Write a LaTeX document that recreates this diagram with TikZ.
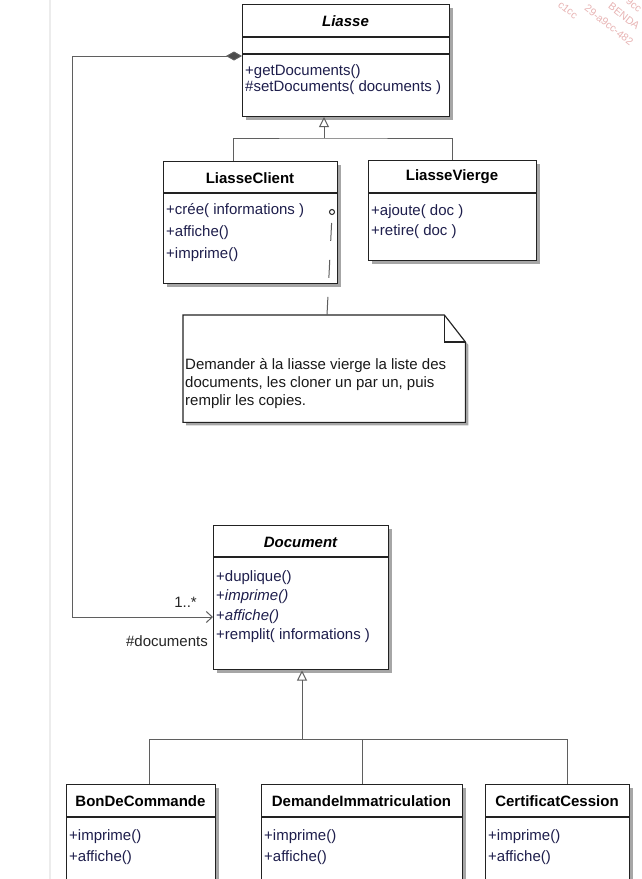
\documentclass[tikz,border=0pt]{standalone}
\usepackage{fontspec}
\setmainfont{Liberation Sans}
\usetikzlibrary{arrows.meta,shadows}

\definecolor{opnavy}{HTML}{1E1E4C}
\definecolor{boxline}{HTML}{222222}
\definecolor{linegray}{HTML}{5F5F5F}
\definecolor{shadowgray}{HTML}{A6A6A6}
\definecolor{edgegray}{HTML}{ECECEC}
\definecolor{wmred}{HTML}{E8B4B4}

\newcommand\umlfont{\fontsize{15}{18}\selectfont}

\begin{document}
\begin{tikzpicture}[x=1pt,y=-1pt,
  classbox/.style={draw=boxline, line width=1.3pt, fill=white, rectangle,
    inner sep=0pt, anchor=north west,
    drop shadow={shadow xshift=3pt, shadow yshift=-3pt, fill=shadowgray, opacity=1}},
  sepline/.style={draw=boxline, line width=1.3pt},
  classname/.style={font=\umlfont\bfseries, text=black, inner sep=0pt, anchor=center},
  abstractname/.style={font=\umlfont\bfseries\itshape, text=black, inner sep=0pt, anchor=center},
  op/.style={font=\umlfont, text=opnavy, inner sep=0pt, anchor=west},
  lbl/.style={font=\umlfont, text=black!85, inner sep=0pt},
  notetext/.style={font=\umlfont, text=black!90, inner sep=0pt, anchor=base west},
  conn/.style={draw=linegray, line width=1pt},
  gentip/.style={-{Triangle[open, length=10pt, width=10pt]}},
  wm/.style={text=wmred, font=\fontsize{10.5}{10.5}\selectfont, rotate=-38, inner sep=0pt}
]
\useasboundingbox (0,0) rectangle (641,879);
\fill[white] (0,0) rectangle (641,879);
\clip (0,0) rectangle (641,879);

% page edge
\draw[edgegray, line width=1.5pt] (50,0) -- (50,879);

% watermark fragments
\node[wm] (wmA) at (568,10) {c1cc};
\node[wm] (wmB) at (609,25) {29-a9cc-482};
\node[wm] (wmC) at (624,16) {BENDA};
\node[wm] (wmD) at (634,5) {9cc};

% ---------- Liasse ----------
\node[classbox, minimum width=207pt, minimum height=112pt] (liasse) at (242,4) {};
\draw[sepline] ([yshift=-33pt]liasse.north west) -- ([yshift=-33pt]liasse.north east);
\draw[sepline] ([yshift=-50pt]liasse.north west) -- ([yshift=-50pt]liasse.north east);
\node[abstractname] (liasseName) at (345.5,21) {Liasse};
\node[op] (liasseOpA) at (245,72) {+getDocuments()};
\node[op] (liasseOpB) at (245,88) {\#setDocuments( documents )};

% ---------- LiasseClient ----------
\node[classbox, minimum width=174pt, minimum height=122pt] (client) at (163,161) {};
\draw[sepline] ([yshift=-32pt]client.north west) -- ([yshift=-32pt]client.north east);
\node[classname] (clientName) at (250,178) {LiasseClient};
\node[op] (clientOpA) at (166,211) {+crée( informations )};
\node[op] (clientOpB) at (166,233) {+affiche()};
\node[op] (clientOpC) at (166,255) {+imprime()};

% ---------- LiasseVierge ----------
\node[classbox, minimum width=168pt, minimum height=100pt] (vierge) at (368,160) {};
\draw[sepline] ([yshift=-33pt]vierge.north west) -- ([yshift=-33pt]vierge.north east);
\node[classname] (viergeName) at (452,177) {LiasseVierge};
\node[op] (viergeOpA) at (371,212) {+ajoute( doc )};
\node[op] (viergeOpB) at (371,232) {+retire( doc )};

% ---------- Document ----------
\node[classbox, minimum width=175pt, minimum height=144pt] (document) at (213,525) {};
\draw[sepline] ([yshift=-32pt]document.north west) -- ([yshift=-32pt]document.north east);
\node[abstractname] (documentName) at (300.5,542) {Document};
\node[op] (docOpA) at (216,578) {+duplique()};
\node[op] (docOpB) at (216,597) {+\textit{imprime()}};
\node[op] (docOpC) at (216,617) {+\textit{affiche()}};
\node[op] (docOpD) at (216,636) {+remplit( informations )};

% ---------- concrete documents ----------
\node[classbox, minimum width=149pt, minimum height=110pt] (bon) at (66,784) {};
\draw[sepline] ([yshift=-33pt]bon.north west) -- ([yshift=-33pt]bon.north east);
\node[classname] (bonName) at (140.5,801) {BonDeCommande};
\node[op] (bonOpA) at (69,837) {+imprime()};
\node[op] (bonOpB) at (69,858) {+affiche()};

\node[classbox, minimum width=201pt, minimum height=110pt] (demande) at (261,784) {};
\draw[sepline] ([yshift=-33pt]demande.north west) -- ([yshift=-33pt]demande.north east);
\node[classname] (demandeName) at (361.5,801) {DemandeImmatriculation};
\node[op] (demandeOpA) at (264,837) {+imprime()};
\node[op] (demandeOpB) at (264,858) {+affiche()};

\node[classbox, minimum width=144pt, minimum height=110pt] (cession) at (485,784) {};
\draw[sepline] ([yshift=-33pt]cession.north west) -- ([yshift=-33pt]cession.north east);
\node[classname] (cessionName) at (557,801) {CertificatCession};
\node[op] (cessionOpA) at (488,837) {+imprime()};
\node[op] (cessionOpB) at (488,858) {+affiche()};

% ---------- note ----------
\node[rectangle, inner sep=0pt, minimum width=282pt, minimum height=107pt,
      anchor=north west] (note) at (183,315) {};
\draw[draw=boxline, line width=1.1pt, fill=white,
      drop shadow={shadow xshift=3pt, shadow yshift=-3pt, fill=shadowgray, opacity=1}]
  (note.north west) -- ([xshift=-21pt]note.north east)
  -- ([yshift=-27pt]note.north east) -- (note.south east)
  -- (note.south west) -- cycle;
\draw[draw=boxline, line width=1.1pt]
  ([xshift=-21pt]note.north east) -- ++(0,27) -- ++(21,0);
\node[notetext] (noteL1) at (185,369) {Demander à la liasse vierge la liste des};
\node[notetext] (noteL2) at (185,387) {documents, les cloner un par un, puis};
\node[notetext] (noteL3) at (185,405) {remplir les copies.};

% note attachment
\node[draw=boxline, circle, line width=1pt, minimum size=5pt, inner sep=0pt,
      fill=white] (noteAnchor) at (332,212) {};
\coordinate (noteTop) at (327,315);
\draw[conn, dash pattern=on 18pt off 19pt, dash phase=29pt] (noteAnchor.south) -- (noteTop);

% ---------- inheritance: Liasse ----------
\coordinate (clientJoin) at ([xshift=70pt]client.north west);
\coordinate (viergeJoin) at ([xshift=84pt]vierge.north west);
\coordinate (liasseBar) at (324,138);
\coordinate (liasseTip) at (324,117);
\draw[conn] (clientJoin) |- (liasseBar) -| (viergeJoin);
\draw[conn, gentip] (liasseBar) -- (liasseTip);

% ---------- inheritance: Document ----------
\coordinate (bonJoin) at ([xshift=83pt]bon.north west);
\coordinate (demandeJoin) at ([xshift=101pt]demande.north west);
\coordinate (cessionJoin) at ([xshift=82pt]cession.north west);
\coordinate (documentBar) at (302,739);
\coordinate (documentTip) at (302,670.5);
\draw[conn] (bonJoin) |- (documentBar) -| (cessionJoin);
\draw[conn] (demandeJoin) -- (demandeJoin |- documentBar);
\draw[conn, gentip] (documentBar) -- (documentTip);

% ---------- composition Liasse -> Document ----------
\coordinate (liasseSide) at (242,56);
\coordinate (loopCorner) at (72,56);
\coordinate (documentSide) at (213,617);
\draw[conn, {Diamond[length=16pt, width=9pt, fill=linegray!80!black]}-{Straight Barb[length=6pt, width=11pt]}]
  (liasseSide) -- (loopCorner) |- (documentSide);
\node[lbl, anchor=east] (multLbl) at (197,602) {1..*};
\node[lbl, anchor=east] (roleLbl) at (208,641) {\#documents};

\end{tikzpicture}
\end{document}
